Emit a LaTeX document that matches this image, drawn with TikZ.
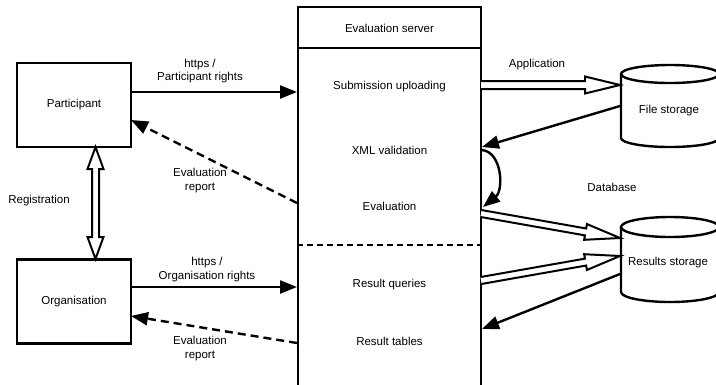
\documentclass[tikz,border=0pt]{standalone}
\usepackage{fontspec}
\setmainfont{Liberation Sans}
\usetikzlibrary{arrows.meta,calc}

% Outlined (hollow) arrow from #1 to #2: shaft half-width #3, head half-width #4, head length #5
\newcommand\hollowarrow[5]{%
  \path let \p1=($(#2)-(#1)$) in \pgfextra{%
    \pgfmathsetmacro\harot{atan2(\y1,\x1)}\global\let\harot\harot
    \pgfmathsetmacro\halen{veclen(\x1,\y1)}\global\let\halen\halen};
  \draw[hollow, shift={(#1)}, rotate=\harot]
    (0,#3) -- (\halen-#5,#3) -- (\halen-#5,#4) -- (\halen,0)
    -- (\halen-#5,-#4) -- (\halen-#5,-#3) -- (0,-#3);
}
% Same, with a head at both ends
\newcommand\hollowboth[5]{%
  \path let \p1=($(#2)-(#1)$) in \pgfextra{%
    \pgfmathsetmacro\harot{atan2(\y1,\x1)}\global\let\harot\harot
    \pgfmathsetmacro\halen{veclen(\x1,\y1)}\global\let\halen\halen};
  \draw[hollow, shift={(#1)}, rotate=\harot]
    (0,0) -- (#5,#4) -- (#5,#3) -- (\halen-#5,#3) -- (\halen-#5,#4) -- (\halen,0)
    -- (\halen-#5,-#4) -- (\halen-#5,-#3) -- (#5,-#3) -- (#5,-#4) -- cycle;
}

\tikzset{
  lbl/.style={align=center, font=\fontsize{11.5}{13.5}\selectfont, inner sep=0pt},
  box/.style={lbl, draw, line width=2.4pt, minimum width=114pt, minimum height=84pt},
  flow/.style={line width=2.4pt, -{Triangle[length=17pt,width=13pt]}},
  report/.style={flow, dash pattern=on 8pt off 5pt},
  hollow/.style={line width=2pt, line join=miter, fill=white},
  cyl/.style={line width=2.4pt, fill=white},
}

\begin{document}
\begin{tikzpicture}[x=1pt, y=-1pt]
\clip (0,0) rectangle (716,384);
\fill[white] (0,0) rectangle (716,384);

% evaluation server column
\node[draw, line width=2.4pt, minimum width=183pt, minimum height=420pt, inner sep=0pt] (server) at (389.5,217) {};
\draw[line width=2.4pt] (server.west |- 0,48) coordinate (hdrL) -- (server.east |- 0,48) coordinate (hdrR);
\draw[line width=2.4pt, dash pattern=on 6pt off 4pt] (server.west |- 0,245) coordinate (divL) -- (server.east |- 0,245) coordinate (divR);

\node[lbl] (srvT) at (389.5,28)  {Evaluation server};
\node[lbl] (upl)  at (389.5,87)  {Submission uploading};
\node[lbl] (xml)  at (389.5,150) {XML validation};
\node[lbl] (eval) at (389.5,206) {Evaluation};
\node[lbl] (rq)   at (389.5,285) {Result queries};
\node[lbl] (rt)   at (389.5,341) {Result tables};

% actors
\node[box] (part) at (74,105)   {Participant};
\node[box] (org)  at (74,301.5) {Organisation};
\node[lbl] (reg)  at (39,201)   {Registration};

% storages
\draw[cyl] (621,74) -- (621,138) arc[start angle=180, end angle=0, x radius=49, y radius=9] -- (719,74);
\draw[cyl] (670,74) ellipse [x radius=49, y radius=9];
\node[lbl] (files) at (669,111) {File storage};

\draw[cyl] (621,227) -- (621,292) arc[start angle=180, end angle=0, x radius=49, y radius=10] -- (719,227);
\draw[cyl] (670,227) ellipse [x radius=49, y radius=10];
\node[lbl] (results) at (668,263) {Results storage};

% connector end points
\coordinate (pOut)  at (131,92);   \coordinate (sIn1)  at (297,92);
\coordinate (sOut1) at (297,203);  \coordinate (pIn)   at (131,120);
\coordinate (oOut)  at (131,287);  \coordinate (sIn2)  at (297,287);
\coordinate (sOut2) at (297,343);  \coordinate (oIn)   at (131,316);
\coordinate (regT)  at (95.5,147); \coordinate (regB)  at (95.5,259);
\coordinate (appA)  at (481,85);   \coordinate (appB)  at (620,85);
\coordinate (fsOut) at (620,106);  \coordinate (xmlIn) at (482,147);
\coordinate (xmlOut) at (482,150); \coordinate (evIn)  at (483,207);
\coordinate (evOut) at (481,213.5);\coordinate (rsIn1) at (620,238);
\coordinate (rqOut) at (481,280.5);\coordinate (rsIn2) at (620,256);
\coordinate (rsOut) at (620,274);  \coordinate (rtIn)  at (482,329);

% participant / organisation traffic
\draw[flow] (pOut) -- (sIn1);
\node[lbl] (lblP) at (200,71) {https /\\Participant rights};
\draw[report] (sOut1) -- (pIn);
\node[lbl] (repP) at (200,180.5) {Evaluation\\report};

\draw[flow] (oOut) -- (sIn2);
\node[lbl] (lblO) at (207,269.5) {https /\\Organisation rights};
\draw[report] (sOut2) -- (oIn);
\node[lbl] (repO) at (200,348.5) {Evaluation\\report};

\hollowboth{regT}{regB}{3.5}{8}{22}

% storage traffic
\hollowarrow{appA}{appB}{4}{8.5}{35}
\node[lbl] (app) at (537,65) {Application};
\draw[flow] (fsOut) -- (xmlIn);
\draw[flow] (xmlOut) .. controls (502,152) and (504,190) .. (evIn);
\node[lbl] (db) at (612,187) {Database};

\hollowarrow{evOut}{rsIn1}{3.5}{8}{35}
\hollowarrow{rqOut}{rsIn2}{3.5}{8}{35}
\draw[flow] (rsOut) -- (rtIn);
\end{tikzpicture}
\end{document}
